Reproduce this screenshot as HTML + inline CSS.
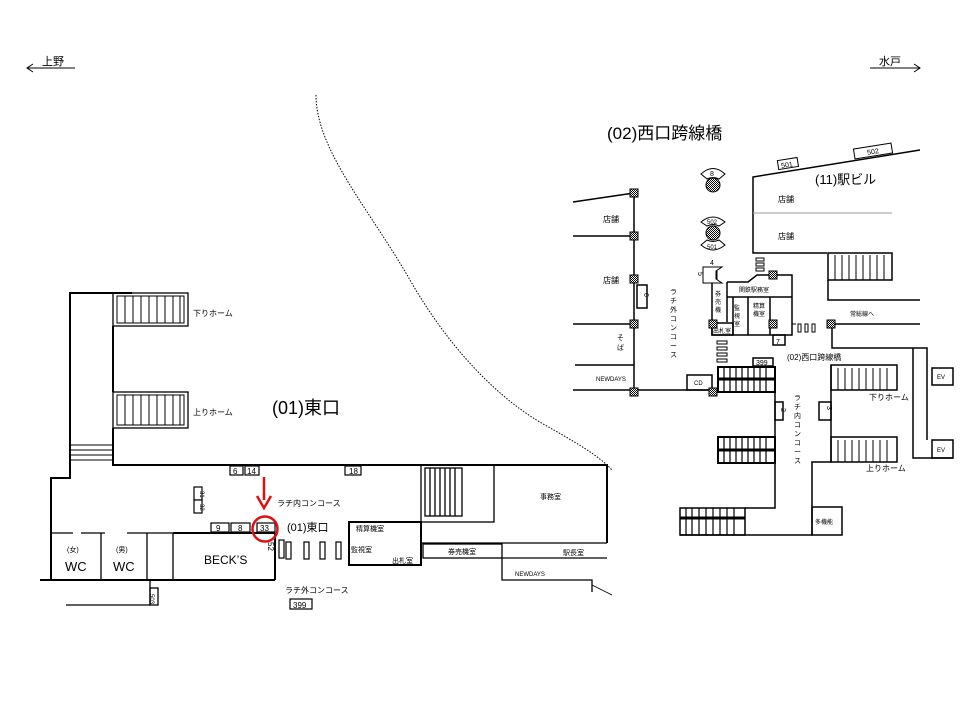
<!DOCTYPE html>
<html><head><meta charset="utf-8"><style>
html,body{margin:0;padding:0;background:#fff;width:960px;height:720px;overflow:hidden}
svg{display:block}
text{font-family:"Liberation Sans","Noto Sans CJK JP",sans-serif;fill:#000}
.s{font-size:8px}
</style></head><body>
<svg width="960" height="720" viewBox="0 0 960 720" xmlns="http://www.w3.org/2000/svg">
<defs>
<pattern id="ck" width="2" height="2" patternUnits="userSpaceOnUse"><rect width="2" height="2" fill="#fff"/><rect width="1" height="1" fill="#000"/><rect x="1" y="1" width="1" height="1" fill="#000"/></pattern>
</defs>
<g stroke="#000" stroke-width="1" fill="none">
<line x1="27" y1="68" x2="75" y2="68"/><polyline points="33,64 27,68 33,72"/>
<line x1="870" y1="68" x2="920" y2="68"/><polyline points="914,64 920,68 914,72"/>
</g>
<text x="42" y="65" font-size="11">上野</text>
<text x="879" y="65" font-size="11">水戸</text>
<path d="M316,95 C316,150 370,210 410,280 C450,350 500,400 545,425 C575,442 598,455 612,470" stroke="#000" stroke-width="1" stroke-dasharray="1.5,1.5" fill="none"/>
<path d="M592,585 L612,595" stroke="#000" stroke-width="0.8" fill="none"/>

<g stroke="#000" stroke-width="2" fill="none">
<polyline points="132,293 70,293 70,478 51,478 51,580"/>
<polyline points="113,326 113,392"/>
<polyline points="113,428 113,465 607,465 607,543"/>
<line x1="40" y1="580" x2="275" y2="580"/>
<line x1="275" y1="533" x2="275" y2="580"/>
<line x1="173" y1="533" x2="275" y2="533"/>
</g>
<g stroke="#000" stroke-width="1.3" fill="none">
<rect x="113" y="293" width="75" height="33"/>
<rect x="113" y="392" width="75" height="36"/>
</g>
<g stroke="#000" stroke-width="1" fill="none">
<rect x="117" y="296" width="67" height="27"/>
<rect x="117" y="395" width="67" height="30"/>
<path d="M125,296v27M133,296v27M141,296v27M149,296v27M157,296v27M165,296v27M173,296v27M180,296v27"/>
<path d="M125,395v30M133,395v30M141,395v30M149,395v30M157,395v30M165,395v30M173,395v30M180,395v30"/>
<path d="M70,445h43M70,450h43M70,455h43M70,460h43"/>
</g>
<text class="s" x="193" y="316">下りホーム</text>
<text class="s" x="193" y="415">上りホーム</text>
<text x="272" y="414" font-size="18">(01)東口</text>

<g stroke="#000" stroke-width="1.3" fill="none">
<path d="M51,533h22M81,533h24M127,533h46"/>
<path d="M101,533v47M147,533v47M173,533v47"/>
<polyline points="66,605 150,605 150,580"/>
<rect x="150" y="588" width="8" height="17"/>
</g>
<text x="67" y="552" font-size="7">(女)</text>
<text x="116" y="552" font-size="7">(男)</text>
<text x="65" y="571" font-size="13">WC</text>
<text x="113" y="571" font-size="13">WC</text>
<text x="204" y="564" font-size="12">BECK’S</text>
<text x="152" y="600" font-size="6" transform="rotate(90 154 596)">503</text>

<g stroke="#000" stroke-width="1.2" fill="#fff">
<rect x="230" y="466" width="13" height="9"/>
<rect x="245" y="466" width="14" height="9"/>
<rect x="345" y="466" width="16" height="9"/>
<rect x="194" y="487" width="8" height="13"/>
<rect x="194" y="500" width="8" height="13"/>
<rect x="211" y="523" width="18" height="9"/>
<rect x="231" y="523" width="19" height="9"/>
<rect x="257" y="523" width="18" height="9"/>
<rect x="279" y="540" width="5" height="18"/>
<rect x="290" y="599" width="22" height="10"/>
</g>
<text x="233" y="474" font-size="8">6</text>
<text x="247" y="474" font-size="8">14</text>
<text x="349" y="474" font-size="8">18</text>
<text x="216" y="531" font-size="8">9</text>
<text x="238" y="531" font-size="8">8</text>
<text x="260" y="531" font-size="8">33</text>
<text x="293" y="608" font-size="8">399</text>
<text x="196" y="491" font-size="6" transform="rotate(90 198 493)">31</text>
<text x="196" y="504" font-size="6" transform="rotate(90 198 506)">32</text>
<text x="266" y="544" font-size="8" transform="rotate(90 268 544)">52</text>
<g stroke="#000" stroke-width="1.2" fill="#fff">
<rect x="286" y="542" width="5" height="17"/><rect x="304" y="542" width="5" height="17"/>
<rect x="320" y="542" width="5" height="17"/><rect x="336" y="542" width="5" height="17"/>
</g>
<line x1="264" y1="477" x2="264" y2="500" stroke="#e01010" stroke-width="2.5"/>
<polyline points="257,496 264,508 271,496" stroke="#e01010" stroke-width="2.5" fill="none"/>
<circle cx="265" cy="529" r="12.5" stroke="#e01010" stroke-width="2.5" fill="none"/>
<text class="s" x="277" y="506">ラチ内コンコース</text>
<text x="287" y="531" font-size="11">(01)東口</text>
<text class="s" x="285" y="593">ラチ外コンコース</text>

<g stroke="#000" stroke-width="1.3" fill="none">
<rect x="421" y="465" width="73" height="57"/>
<rect x="425" y="468" width="37" height="48"/>
<path d="M430,468v48M435,468v48M440,468v48M445,468v48M450,468v48M455,468v48"/>
<line x1="421" y1="543" x2="607" y2="543"/>
<rect x="423" y="544" width="79" height="14"/>
<polyline points="502,558 502,580 592,580 592,592"/>
<line x1="502" y1="558" x2="607" y2="558"/>
</g>
<rect x="349" y="522" width="72" height="43" stroke="#000" stroke-width="2" fill="none"/>
<text x="356" y="531" font-size="7">精算機室</text>
<text x="351" y="552" font-size="7">監視室</text>
<text x="392" y="563" font-size="7">出札室</text>
<text x="540" y="499" font-size="7">事務室</text>
<text x="563" y="555" font-size="7">駅長室</text>
<text x="448" y="554" font-size="7">券売機室</text>
<text x="515" y="576" font-size="6">NEWDAYS</text>

<text x="607" y="139" font-size="17">(02)西口跨線橋</text>
<g stroke="#000" stroke-width="1.5" fill="none">
<polyline points="920,150 753,177 753,253 827,253"/>
<line x1="753" y1="213" x2="892" y2="213" stroke="#999" stroke-width="1"/>
<rect x="828" y="253" width="64" height="27"/>
<polyline points="828,280 828,300 920,300"/>
<line x1="634" y1="193" x2="634" y2="365"/>
<line x1="573" y1="202" x2="634" y2="193"/>
<line x1="573" y1="236" x2="634" y2="236"/>
<line x1="573" y1="324" x2="634" y2="324"/>
<polyline points="575,365 634,365 634,390"/>
<line x1="573" y1="390" x2="718" y2="390"/>
<rect x="687" y="375" width="25" height="15"/>
<rect x="637" y="285" width="10" height="23"/>
<line x1="831" y1="324" x2="920" y2="324"/>
<polyline points="832,324 832,348 927,348 927,440"/>
<polyline points="913,348 913,458 953,458"/>
<rect x="932" y="368" width="21" height="17"/>
<rect x="932" y="440" width="21" height="18"/>
<polyline points="712,275 712,335 792,335 792,275 757,275 748,282 727,282"/>
<line x1="727" y1="282" x2="727" y2="322"/>
<line x1="727" y1="297" x2="792" y2="297"/>
<line x1="748" y1="297" x2="748" y2="335"/>
<line x1="770" y1="297" x2="770" y2="335"/>
<line x1="733" y1="297" x2="733" y2="335"/>
<rect x="712" y="323" width="21" height="12"/>
<rect x="773" y="335" width="12" height="10"/>
<line x1="775" y1="392" x2="775" y2="437"/>
<polyline points="775,463 775,508 745,508"/>
<rect x="775" y="402" width="8" height="18"/>
<polyline points="831,365 831,462 812,462 812,535 680,535"/>
<rect x="819" y="402" width="12" height="18"/>
<rect x="812" y="507" width="30" height="28"/>
<rect x="831" y="365" width="66" height="25"/>
<rect x="831" y="437" width="66" height="25"/>
<rect x="753" y="358" width="20" height="8"/>
</g>
<g stroke="#000" stroke-width="1" fill="none">
<path d="M838,368v22M845,368v22M852,368v22M859,368v22M866,368v22M873,368v22M880,368v22M887,368v22"/>
<path d="M838,440v22M845,440v22M852,440v22M859,440v22M866,440v22M873,440v22M880,440v22M887,440v22"/>
<path d="M835,255v25M842,255v25M849,255v25M856,255v25M863,255v25M870,255v25M877,255v25M884,255v25"/>
</g>
<g stroke="#000" fill="none">
<rect x="718" y="367" width="57" height="25" stroke-width="2"/>
<line x1="718" y1="379" x2="775" y2="379" stroke-width="3"/>
<path d="M724,367v25M730,367v25M736,367v25M742,367v25M748,367v25M754,367v25M760,367v25M766,367v25" stroke-width="1.2"/>
<rect x="718" y="437" width="57" height="26" stroke-width="2"/>
<line x1="718" y1="450" x2="775" y2="450" stroke-width="3"/>
<path d="M724,437v26M730,437v26M736,437v26M742,437v26M748,437v26M754,437v26M760,437v26M766,437v26" stroke-width="1.2"/>
<rect x="680" y="508" width="65" height="27" stroke-width="1.5"/>
<line x1="680" y1="518" x2="745" y2="518" stroke-width="3"/>
<path d="M686,508v27M692,508v27M699,508v27M706,508v27M713,508v27M720,508v27M727,508v27M734,508v27" stroke-width="1.2"/>
</g>
<g fill="url(#ck)" stroke="#000" stroke-width="1">
<rect x="630" y="189" width="8" height="8"/><rect x="630" y="232" width="8" height="8"/>
<rect x="630" y="275" width="8" height="8"/><rect x="630" y="320" width="8" height="8"/>
<rect x="630" y="388" width="8" height="8"/><rect x="709" y="388" width="8" height="8"/>
<rect x="709" y="271" width="8" height="8"/><rect x="769" y="271" width="8" height="8"/>
<rect x="709" y="320" width="8" height="8"/><rect x="769" y="320" width="8" height="8"/>
<rect x="827" y="320" width="8" height="8"/>
<circle cx="713" cy="185" r="7"/><circle cx="713" cy="233" r="7"/>
</g>
<g stroke="#000" stroke-width="1" fill="#fff">
<path d="M701,174 Q713,163 725,174 L719,179 Q713,176 707,179 Z"/>
<path d="M701,222 Q713,212 725,222 L719,226 Q713,223 707,226 Z"/>
<path d="M701,245 Q713,255 725,245 L719,240 Q713,243 707,240 Z"/>
<path d="M703,267 L722,267 L716,271 L716,279 L722,283 L703,283 Z"/>
</g>
<text x="710" y="176" font-size="7">8</text>
<text x="707" y="224" font-size="6">502</text>
<text x="707" y="249" font-size="6">501</text>
<text x="710" y="265" font-size="7">4</text>
<text x="692" y="272" font-size="7" transform="rotate(90 695 275)">5</text>
<g stroke="#000" stroke-width="1" fill="#fff">
<rect x="756" y="258" width="8" height="3"/><rect x="756" y="263" width="8" height="3"/><rect x="756" y="268" width="8" height="3"/>
<rect x="717" y="341" width="10" height="3"/><rect x="717" y="347" width="10" height="3"/><rect x="717" y="353" width="10" height="3"/><rect x="717" y="359" width="10" height="3"/>
<rect x="798" y="324" width="3" height="8"/><rect x="805" y="324" width="3" height="8"/><rect x="812" y="324" width="3" height="8"/>
</g>
<line x1="792" y1="324" x2="796" y2="324" stroke="#000"/>
<g transform="rotate(-9 788 164)"><rect x="778" y="159" width="20" height="9" stroke="#000" fill="#fff"/><text x="781" y="167" font-size="7">501</text></g>
<g transform="rotate(-9 873 151)"><rect x="854" y="146" width="38" height="10" stroke="#000" fill="#fff"/><text x="867" y="154" font-size="7">502</text></g>
<text x="815" y="184" font-size="13">(11)駅ビル</text>
<text class="s" x="778" y="202">店舗</text>
<text class="s" x="778" y="239">店舗</text>
<text class="s" x="603" y="222">店舗</text>
<text class="s" x="603" y="283">店舗</text>
<text x="639" y="294" font-size="7" transform="rotate(90 642 296)">6</text>
<text x="617" y="340" font-size="7">そ</text>
<text x="617" y="350" font-size="7">ば</text>
<text x="596" y="381" font-size="6">NEWDAYS</text>
<text x="694" y="385" font-size="6">CD</text>
<g font-size="7">
<text x="670" y="294">ラ</text><text x="670" y="303">チ</text><text x="670" y="312">外</text><text x="670" y="321">コ</text><text x="670" y="330">ン</text><text x="670" y="339">コ</text><text x="670" y="348">ー</text><text x="670" y="357">ス</text>
<text x="794" y="400">ラ</text><text x="794" y="409">チ</text><text x="794" y="418">内</text><text x="794" y="427">コ</text><text x="794" y="436">ン</text><text x="794" y="445">コ</text><text x="794" y="454">ー</text><text x="794" y="463">ス</text>
</g>
<text x="715" y="296" font-size="6">券</text><text x="715" y="304" font-size="6">売</text><text x="715" y="312" font-size="6">機</text>
<text x="739" y="292" font-size="6">関鉄駅務室</text>
<text x="734" y="310" font-size="6">監</text><text x="734" y="318" font-size="6">視</text><text x="734" y="326" font-size="6">室</text>
<text x="753" y="308" font-size="6">精算</text><text x="753" y="316" font-size="6">機室</text>
<text x="713" y="333" font-size="6">出札室</text>
<text x="776" y="344" font-size="7">7</text>
<text x="756" y="365" font-size="7">399</text>
<text x="850" y="316" font-size="6">常総線へ</text>
<text x="787" y="360" font-size="8">(02)西口跨線橋</text>
<text x="776" y="409" font-size="7" transform="rotate(90 779 411)">2</text>
<text x="820" y="409" font-size="7" transform="rotate(90 825 411)">3</text>
<text class="s" x="869" y="400">下りホーム</text>
<text class="s" x="866" y="471">上りホーム</text>
<text x="815" y="524" font-size="6">多機能</text>
<text x="937" y="379" font-size="6">EV</text>
<text x="937" y="452" font-size="6">EV</text>
</svg>
</body></html>
